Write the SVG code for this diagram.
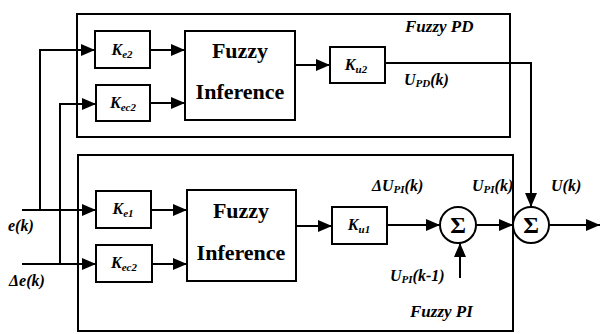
<svg xmlns="http://www.w3.org/2000/svg" width="600" height="334" viewBox="0 0 600 334">
<style>
.bx{fill:none;stroke:#000;stroke-width:2}
.ln{fill:none;stroke:#000;stroke-width:2}
text{font-family:'Liberation Serif','DejaVu Serif','Times New Roman',serif}
.fz{font-weight:bold;font-size:22px;text-anchor:middle}
.k{font-weight:bold;font-style:italic;font-size:16px;text-anchor:middle}
.lb{font-weight:bold;font-style:italic;font-size:16px}
.tt{font-weight:bold;font-style:italic;font-size:17px}
.sg{font-size:24px;font-weight:bold;text-anchor:middle}
</style>
<defs>
<marker id="ah" viewBox="0 0 14 12" refX="14" refY="6" markerWidth="14" markerHeight="12" markerUnits="userSpaceOnUse" orient="auto">
<path d="M0,0 L14,6 L0,12 Z" fill="#000"/>
</marker>
</defs>
<rect width="600" height="334" fill="#fff"/>
<g id="fuzzyPD"><rect class="bx" x="77" y="14" width="433" height="123"/><text class="tt" x="405" y="32">Fuzzy PD</text></g>
<g id="fuzzyPI"><rect class="bx" x="78" y="155" width="435" height="176"/><text class="tt" x="410" y="317">Fuzzy PI</text></g>
<g id="Ke2"><rect class="bx" x="95" y="31" width="55" height="37"/><text class="k" x="122" y="55">K<tspan font-size="11" dy="3">e2</tspan></text></g>
<g id="Kec2a"><rect class="bx" x="96" y="85" width="54" height="36"/><text class="k" x="123" y="108">K<tspan font-size="11" dy="3">ec2</tspan></text></g>
<g id="FI1"><rect class="bx" x="185" y="31" width="110" height="89"/><text class="fz" x="240" y="58">Fuzzy</text><text class="fz" x="240" y="99">Inference</text></g>
<g id="Ku2"><rect class="bx" x="330" y="47" width="55" height="36"/><text class="k" x="356" y="70">K<tspan font-size="11" dy="3">u2</tspan></text></g>
<g id="Ke1"><rect class="bx" x="96" y="191" width="55" height="37"/><text class="k" x="123" y="214">K<tspan font-size="11" dy="3">e1</tspan></text></g>
<g id="Kec2b"><rect class="bx" x="96" y="245" width="56" height="37"/><text class="k" x="124" y="268">K<tspan font-size="11" dy="3">ec2</tspan></text></g>
<g id="FI2"><rect class="bx" x="187" y="190" width="109" height="91"/><text class="fz" x="241" y="218">Fuzzy</text><text class="fz" x="241" y="260">Inference</text></g>
<g id="Ku1"><rect class="bx" x="332" y="207" width="55" height="37"/><text class="k" x="359" y="230">K<tspan font-size="11" dy="3">u1</tspan></text></g>
<g id="sum1"><circle class="bx" cx="458" cy="225" r="18"/><text class="sg" x="458" y="233">Σ</text></g>
<g id="sum2"><circle class="bx" cx="531" cy="225" r="18"/><text class="sg" x="531" y="233">Σ</text></g>
<g id="connectors">
<path class="ln" d="M22,210 H96" marker-end="url(#ah)"/>
<path class="ln" d="M40,210 V50 H95" marker-end="url(#ah)"/>
<path class="ln" d="M22,264 H96" marker-end="url(#ah)"/>
<path class="ln" d="M60,264 V104 H96" marker-end="url(#ah)"/>
<path class="ln" d="M150,50 H185" marker-end="url(#ah)"/>
<path class="ln" d="M150,103 H185" marker-end="url(#ah)"/>
<path class="ln" d="M295,65 H330" marker-end="url(#ah)"/>
<path class="ln" d="M385,63 H531 V207" marker-end="url(#ah)"/>
<path class="ln" d="M151,210 H187" marker-end="url(#ah)"/>
<path class="ln" d="M152,264 H187" marker-end="url(#ah)"/>
<path class="ln" d="M296,226 H332" marker-end="url(#ah)"/>
<path class="ln" d="M387,225 H440" marker-end="url(#ah)"/>
<path class="ln" d="M460,278 V243" marker-end="url(#ah)"/>
<path class="ln" d="M476,225 H513" marker-end="url(#ah)"/>
<path class="ln" d="M549,225 H600" marker-end="url(#ah)"/>
</g>
<g id="labels">
<text class="lb" x="8" y="231">e(k)</text>
<text class="lb" x="9" y="286">Δe(k)</text>
<text class="lb" x="404" y="85">U<tspan font-size="11" dy="2">PD</tspan><tspan dy="-2">(k)</tspan></text>
<text class="lb" x="372" y="191">ΔU<tspan font-size="11" dy="2">PI</tspan><tspan dy="-2">(k)</tspan></text>
<text class="lb" x="472" y="191">U<tspan font-size="11" dy="2">PI</tspan><tspan dy="-2">(k)</tspan></text>
<text class="lb" x="551" y="191">U(k)</text>
<text class="lb" x="390" y="281">U<tspan font-size="11" dy="2">PI</tspan><tspan dy="-2">(k-1)</tspan></text>
</g>
</svg>
